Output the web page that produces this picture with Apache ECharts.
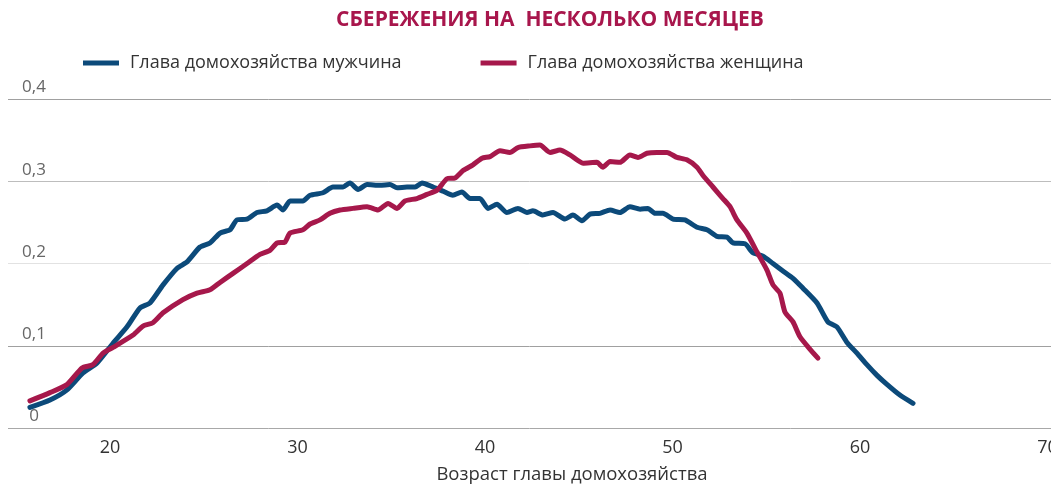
<!DOCTYPE html>
<html>
<head>
<meta charset="utf-8">
<script src="https://cdn.jsdelivr.net/npm/echarts@6/dist/echarts.min.js"></script>
<style>
html,body{margin:0;padding:0;background:#fff;}
#chart{width:1051px;height:486px;}
</style>
</head>
<body>
<div id="chart"></div>
<script>
var titleText = 'СБЕРЕЖЕНИЯ НА  НЕСКОЛЬКО МЕСЯЦЕВ';
var xAxisName = 'Возраст главы домохозяйства';
var seriesNames = ['Глава домохозяйства мужчина', 'Глава домохозяйства женщина'];
var xTicks = [20, 30, 40, 50, 60, 70];
var yTicks = [0, 0.1, 0.2, 0.3, 0.4];

var maleAge = [15.73,16.80,17.69,18.56,19.31,20.16,20.91,21.60,22.13,22.83,23.57,24.11,24.80,25.33,25.87,26.40,26.77,27.31,27.84,28.37,28.91,29.23,29.60,30.29,30.67,31.36,31.89,32.43,32.80,33.23,33.71,34.40,34.93,35.31,35.84,36.27,36.64,37.23,37.76,38.29,38.77,39.20,39.73,40.16,40.64,41.17,41.76,42.24,42.56,43.09,43.63,44.27,44.69,45.17,45.60,46.13,46.67,47.20,47.73,48.27,48.69,49.07,49.49,50.03,50.67,51.31,51.84,52.37,52.91,53.23,53.87,54.29,54.83,55.36,55.89,56.43,56.96,57.71,58.29,58.77,59.31,59.84,60.37,60.91,61.44,62.13,62.83];
var maleValue = [0.025,0.034,0.046,0.067,0.079,0.103,0.123,0.146,0.152,0.174,0.194,0.202,0.220,0.225,0.237,0.241,0.253,0.254,0.262,0.264,0.271,0.265,0.276,0.276,0.283,0.286,0.293,0.293,0.298,0.290,0.296,0.295,0.296,0.292,0.293,0.293,0.298,0.293,0.288,0.283,0.287,0.279,0.279,0.267,0.272,0.262,0.267,0.262,0.264,0.259,0.262,0.254,0.259,0.252,0.260,0.261,0.265,0.262,0.269,0.266,0.267,0.261,0.261,0.254,0.253,0.244,0.241,0.233,0.232,0.225,0.224,0.213,0.209,0.200,0.191,0.182,0.170,0.152,0.129,0.123,0.104,0.091,0.077,0.064,0.053,0.040,0.030];

var femaleAge = [15.73,16.80,17.71,18.51,19.09,19.63,20.16,21.23,21.76,22.29,22.83,23.89,24.64,25.33,25.87,26.56,27.31,28.00,28.53,28.91,29.33,29.60,30.29,30.67,31.20,31.73,32.27,32.96,33.71,34.29,34.83,35.31,35.73,36.37,36.91,37.44,37.97,38.40,38.83,39.36,39.84,40.27,40.80,41.33,41.76,42.40,42.93,43.47,44.00,44.53,45.23,45.97,46.29,46.67,47.20,47.73,48.16,48.64,49.17,49.71,50.24,50.77,51.31,51.63,52.16,52.69,53.07,53.44,53.97,54.51,55.04,55.36,55.73,56.00,56.43,56.80,57.33,57.76];
var femaleValue = [0.033,0.043,0.053,0.073,0.077,0.091,0.098,0.113,0.124,0.128,0.140,0.156,0.164,0.168,0.177,0.188,0.200,0.211,0.216,0.225,0.226,0.237,0.241,0.248,0.253,0.261,0.265,0.267,0.269,0.265,0.273,0.267,0.276,0.279,0.284,0.289,0.303,0.304,0.313,0.320,0.328,0.330,0.337,0.335,0.341,0.343,0.344,0.335,0.338,0.332,0.322,0.323,0.317,0.324,0.323,0.332,0.329,0.334,0.335,0.335,0.329,0.326,0.317,0.307,0.293,0.279,0.269,0.253,0.237,0.214,0.192,0.174,0.164,0.141,0.129,0.111,0.096,0.085];

function pairs(xs, ys){ return xs.map(function(x,i){ return [x, ys[i]]; }); }

var FONT = '"Open Sans", "Noto Sans", sans-serif';
var chart = echarts.init(document.getElementById('chart'), null, {renderer:'canvas'});
chart.setOption({
  animation: false,
  backgroundColor: '#ffffff',
  title: {
    text: titleText,
    left: 545, top: 5, textAlign: 'center',
    textStyle: {color:'#a8164c', fontSize:21, fontWeight:'bold', fontFamily: FONT}
  },
  legend: {
    left: 78, top: 49,
    icon: 'rect', itemWidth: 36, itemHeight: 5, itemGap: 79,
    textStyle: {color:'#333', fontSize:18, fontFamily: FONT, padding:[0,0,0,6]},
    data: seriesNames
  },
  grid: {left: 8, right: 0, top: 99, bottom: 58, containLabel: false, outerBoundsMode: 'none'},
  xAxis: {
    type: 'value', min: 14.56, max: 70.19,
    name: xAxisName, nameLocation: 'middle', nameGap: 37,
    nameTextStyle: {color:'#333', fontSize:18.5, fontFamily: FONT, padding:[0,0,0,85]},
    axisLine: {show:false}, axisTick: {show:false}, splitLine: {show:false},
    axisLabel: {
      customValues: xTicks, margin: 11, color:'#333', fontSize:18, fontFamily: FONT,
      showMinLabel: true, showMaxLabel: true, hideOverlap: false
    }
  },
  yAxis: {
    type: 'value', min: 0, max: 0.4, interval: 0.1,
    axisLine: {show:false}, axisTick: {show:false},
    splitLine: {show:true, lineStyle: {color: ['#a8a8a8', '#a0a0a0', '#e2e2e2', '#bdbdbd', '#a0a0a0'], width: 1}},
    axisLabel: {
      inside: true, align: 'center', verticalAlign: 'bottom', margin: 26,
      padding: [0,0,3,0],
      color: '#666', fontSize: 17, fontFamily: FONT,
      formatter: function(v){ return v === 0 ? '0' : v.toFixed(1).replace('.', ','); }
    }
  },
  series: [
    {
      name: seriesNames[0], type: 'line', data: pairs(maleAge, maleValue),
      showSymbol: false, smooth: 0.2,
      lineStyle: {color:'#0c4a7a', width:5, cap:'round', join:'round'},
      itemStyle: {color:'#0c4a7a'}, z: 3
    },
    {
      name: seriesNames[1], type: 'line', data: pairs(femaleAge, femaleValue),
      showSymbol: false, smooth: 0.2,
      lineStyle: {color:'#a6184b', width:5, cap:'round', join:'round'},
      itemStyle: {color:'#a6184b'}, z: 4
    }
  ]
});
</script>
</body>
</html>
